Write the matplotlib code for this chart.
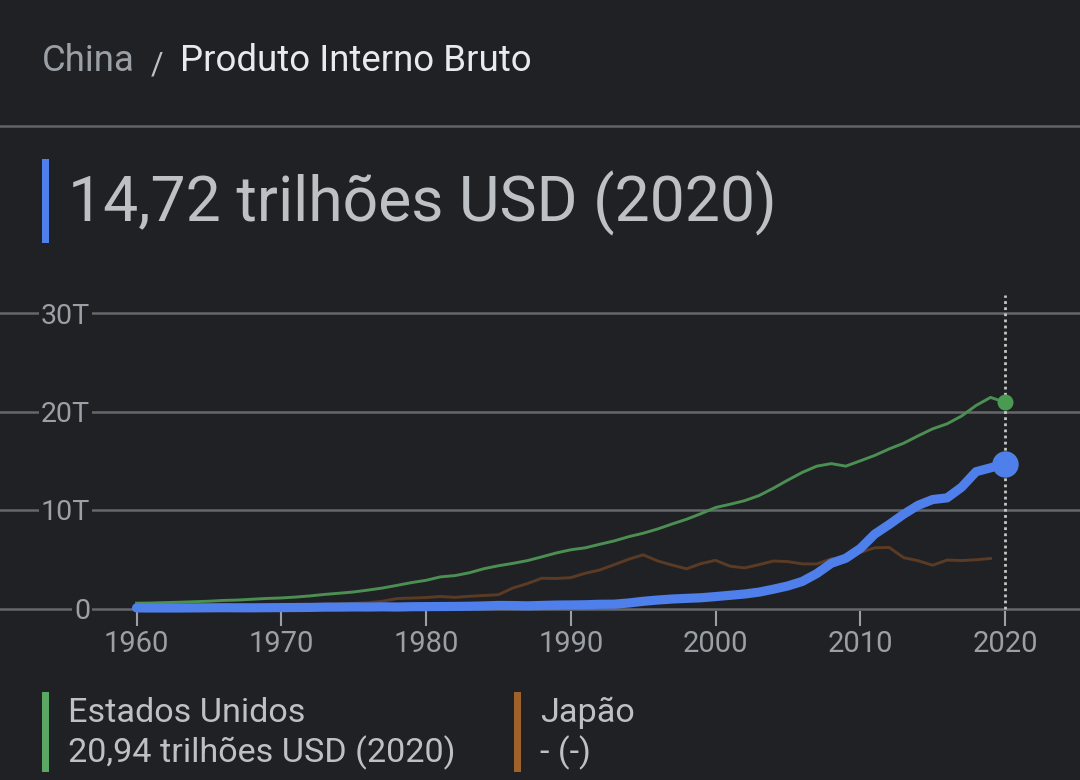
import matplotlib
matplotlib.use('Agg')
import matplotlib.pyplot as plt
from matplotlib.patches import Rectangle

W, H = 1080, 780
BG = '#202124'

years_us = list(range(1960, 2021))
years_china = list(range(1960, 2021))
years_japan = list(range(1960, 2020))

gdp_us = [0.54, 0.56, 0.60, 0.64, 0.69, 0.74, 0.82, 0.86, 0.94, 1.02,
          1.07, 1.16, 1.28, 1.43, 1.55, 1.68, 1.87, 2.08, 2.35, 2.63,
          2.86, 3.21, 3.34, 3.63, 4.04, 4.34, 4.58, 4.86, 5.24, 5.64,
          5.96, 6.16, 6.52, 6.86, 7.29, 7.64, 8.07, 8.58, 9.06, 9.63,
          10.25, 10.58, 10.94, 11.46, 12.21, 13.04, 13.82, 14.45, 14.71, 14.45,
          14.99, 15.54, 16.20, 16.78, 17.53, 18.24, 18.75, 19.54, 20.61, 21.43,
          20.94]
gdp_china = [0.06, 0.05, 0.05, 0.05, 0.06, 0.07, 0.08, 0.07, 0.07, 0.08,
             0.09, 0.10, 0.11, 0.14, 0.14, 0.16, 0.15, 0.17, 0.15, 0.18,
             0.19, 0.20, 0.21, 0.23, 0.26, 0.31, 0.30, 0.27, 0.31, 0.35,
             0.36, 0.38, 0.43, 0.44, 0.56, 0.73, 0.86, 0.96, 1.03, 1.09,
             1.21, 1.34, 1.47, 1.66, 1.96, 2.29, 2.75, 3.55, 4.59, 5.10,
             6.09, 7.55, 8.53, 9.57, 10.48, 11.06, 11.23, 12.31, 13.89, 14.28,
             14.72]
gdp_japan = [0.04, 0.05, 0.06, 0.07, 0.08, 0.09, 0.11, 0.12, 0.15, 0.17,
             0.21, 0.24, 0.31, 0.43, 0.48, 0.52, 0.59, 0.74, 1.01, 1.06,
             1.11, 1.22, 1.13, 1.24, 1.32, 1.40, 2.08, 2.53, 3.07, 3.05,
             3.13, 3.58, 3.91, 4.45, 5.00, 5.45, 4.83, 4.41, 4.03, 4.56,
             4.89, 4.30, 4.12, 4.45, 4.82, 4.76, 4.53, 4.52, 5.04, 5.23,
             5.70, 6.16, 6.20, 5.16, 4.85, 4.39, 4.92, 4.87, 4.95, 5.08]

x_ticks = [1960, 1970, 1980, 1990, 2000, 2010, 2020]
y_ticks = [0, 10, 20, 30]
y_tick_labels = ['0', '10T', '20T', '30T']

plt.rcParams['font.family'] = ['Roboto', 'DejaVu Sans']


def px(x, y):
    return x / W, 1 - y / H


def bar(fig, left, top, width, height, color):
    fig.add_artist(Rectangle(px(left, top + height), width / W, height / H,
                             transform=fig.transFigure, facecolor=color, edgecolor='none'))


def label(fig, x, y, s, size, color):
    fig.text(*px(x, y), s, fontsize=size, color=color, va='baseline', ha='left')


fig = plt.figure(figsize=(W / 100, H / 100), dpi=100, facecolor=BG)

# header
label(fig, 42, 71, 'China', 26.4, '#9aa0a6')
label(fig, 151, 73, '/', 22, '#bdc1c6')
label(fig, 180, 71, 'Produto Interno Bruto', 26.4, '#e8eaed')
fig.add_artist(plt.Line2D([0, 1], [1 - 126 / H] * 2, color='#5f6368', lw=1.8))

bar(fig, 42, 159, 7, 84, '#4f7fea')
label(fig, 68, 221, '14,72 trilhões USD (2020)', 45, '#bdc1c6')

# chart, pixel box: y 0 at 608.5, 30T at 313; 1960 at 136.5, 2020 at 1005
per_t = (608.5 - 313) / 30
per_year = (1005 - 136.5) / 60
ax_top, ax_bottom = 290, 611
ax = fig.add_axes([0, 1 - ax_bottom / H, 1, (ax_bottom - ax_top) / H])
ax.set_facecolor('none')
ax.set_xlim(1960 - 136.5 / per_year, 1960 + (W - 136.5) / per_year)
ax.set_ylim(-(ax_bottom - 608.5) / per_t, (608.5 - ax_top) / per_t)
for side in ax.spines.values():
    side.set_visible(False)

ax.set_axisbelow(True)
ax.grid(True, axis='y', color='#65686b', lw=1.8)
ax.set_yticks(y_ticks, y_tick_labels)
ax.set_xticks(x_ticks)
ax.tick_params(axis='y', length=0, pad=-65, labelsize=20.5, labelcolor='#9aa0a6')
ax.tick_params(axis='x', length=11, width=1.5, color='#9aa0a6', pad=3, labelsize=21,
               labelcolor='#9aa0a6')
for t in ax.get_yticklabels():
    t.set_bbox(dict(facecolor=BG, edgecolor='none', pad=1.5))
    t.set_y(t.get_position()[1])

ax.plot([2020, 2020], [0, 31.8], color='#c4c7c5', lw=2, ls=(0, (1, 1.2)), zorder=2, clip_on=False)
ax.plot(years_japan, gdp_japan, color='#5b3b24', lw=2.1, zorder=3)
ax.plot(years_us, gdp_us, color='#4b8f53', lw=2.1, zorder=4)
ax.plot(years_china, gdp_china, color='#4f7fea', lw=6.6, zorder=5, clip_on=False,
        solid_capstyle='round', solid_joinstyle='round')
ax.plot(years_us[-1], gdp_us[-1], 'o', color='#4b9a52', ms=11.5, mew=0, zorder=6)
ax.plot(years_china[-1], gdp_china[-1], 'o', color='#4f7fea', ms=19, mew=0, zorder=6)

# legend
bar(fig, 42, 692, 7, 80, '#5aa864')
label(fig, 68.5, 722, 'Estados Unidos', 24.6, '#bdc1c6')
label(fig, 68.5, 762, '20,94 trilhões USD (2020)', 24.6, '#bdc1c6')
bar(fig, 514, 692, 7, 80, '#a0622a')
label(fig, 540, 722, 'Japão', 24.6, '#bdc1c6')
label(fig, 540, 762, '- (-)', 24.6, '#bdc1c6')

fig.savefig('out.png', dpi=100, facecolor=BG)
